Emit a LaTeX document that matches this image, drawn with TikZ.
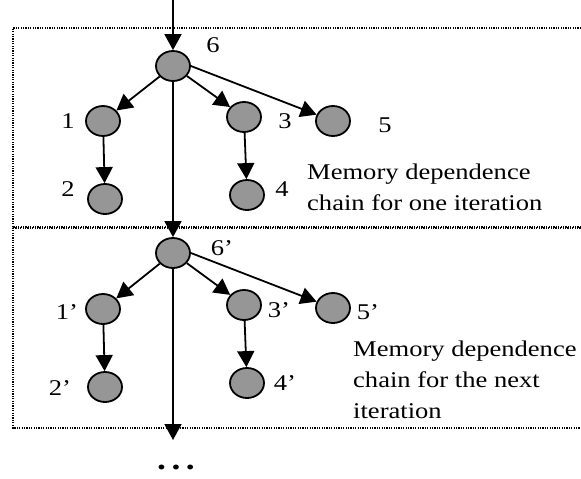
\documentclass[tikz,border=0pt]{standalone}
\usepackage{fontspec}
\setmainfont{Liberation Serif}[FakeStretch=1.18]
\usepackage{tikz}
\usetikzlibrary{arrows.meta,shapes}
\definecolor{nodegray}{RGB}{150,150,150}
\tikzstyle{op}=[ellipse, draw, line width=1.8pt, fill=nodegray,
		minimum width=34pt, minimum height=30pt, inner sep=0pt]
\tikzstyle{num}=[inner sep=0pt, font=\fontsize{22.5}{31}\selectfont]
\tikzstyle{note}=[inner sep=0pt, anchor=west, align=left,
		font=\fontsize{22.5}{31}\selectfont]
\tikzstyle{dep}=[-{Triangle[length=16pt,width=17pt]}, line width=1.8pt]
\tikzstyle{iter}=[line width=1.2pt, dash pattern=on 1.2pt off 1.2pt]

\begin{document}
\begin{tikzpicture}[x=1pt,y=-1pt]
    \useasboundingbox (0,0) rectangle (581,479);

    % iteration boxes
    \draw[iter] (581,28) -- (13,28) -- (13,228) -- (581,228);
    \draw[iter] (581,227) -- (13,227) -- (13,428) -- (581,428);

    % first iteration
    \node (n6) [op] at (173,66) {};
    \node (n1) [op] at (103,121) {};
    \node (n2) [op] at (105,199) {};
    \node (n3) [op] at (244,117) {};
    \node (n4) [op] at (247,195) {};
    \node (n5) [op] at (333,121) {};

    \node (l6) [num] at (213,45) {6};
    \node (l1) [num] at (68,121) {1};
    \node (l2) [num] at (68,189) {2};
    \node (l3) [num] at (285,121) {3};
    \node (l4) [num] at (282,189) {4};
    \node (l5) [num] at (385,125) {5};

    \node (txtA) [note] at (307,187) {Memory dependence\\chain for one iteration};

    % next iteration
    \node (n6p) [op] at (173,253) {};
    \node (n1p) [op] at (103,309) {};
    \node (n2p) [op] at (105,387) {};
    \node (n3p) [op] at (244,305) {};
    \node (n4p) [op] at (247,383) {};
    \node (n5p) [op] at (333,308) {};

    \node (l6p) [num] at (222,248) {6'};
    \node (l1p) [num] at (67,312) {1'};
    \node (l2p) [num] at (60,388) {2'};
    \node (l3p) [num] at (279,310) {3'};
    \node (l4p) [num] at (285,383) {4'};
    \node (l5p) [num] at (368,312) {5'};

    \node (txtB) [note] at (353,380) {Memory dependence\\chain for the next\\iteration};

    \coordinate (in) at (173,0);
    \coordinate (out) at (173,440);
    \node (more) [inner sep=0pt, font=\fontsize{30}{30}\selectfont\bfseries]
        at (176,467) {.\kern5.5pt.\kern5.5pt.};

    % dependences
    \draw[dep] (in) -- (n6);
    \draw[dep] (n6) -- (n1);
    \draw[dep] (n1) -- (n2);
    \draw[dep] (n6) -- (n3);
    \draw[dep] (n3) -- (n4);
    \draw[dep] (n6.east) -- (n5);
    \draw[dep] (n6) -- (n6p);

    \draw[dep] (n6p) -- (n1p);
    \draw[dep] (n1p) -- (n2p);
    \draw[dep] (n6p) -- (n3p);
    \draw[dep] (n3p) -- (n4p);
    \draw[dep] (n6p.east) -- (n5p);
    \draw[dep] (n6p) -- (out);

\end{tikzpicture}
\end{document}
